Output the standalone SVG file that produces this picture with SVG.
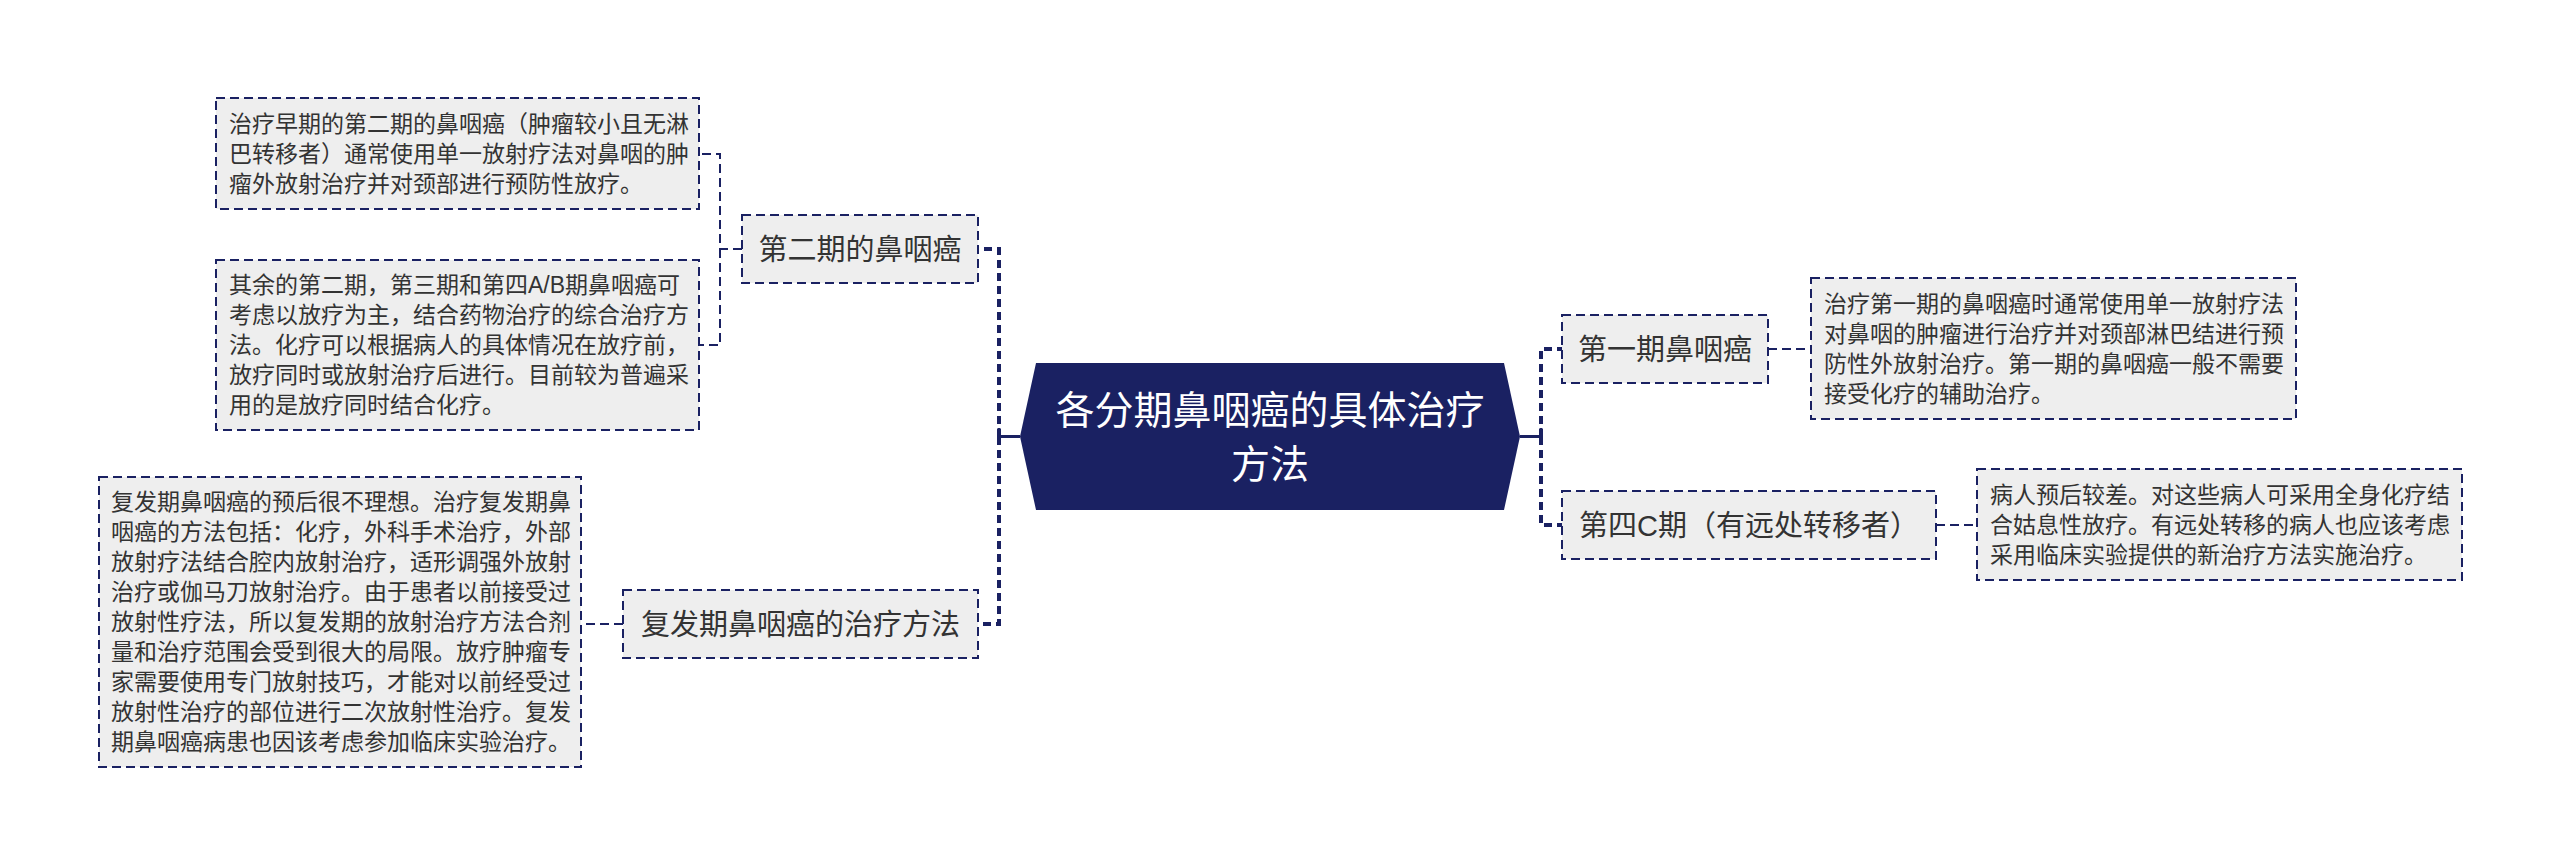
<svg xmlns="http://www.w3.org/2000/svg" width="2560" height="867" viewBox="0 0 2560 867">
<style>
.bg{fill:#ffffff}
.box{fill:#eeeeee;stroke:#1a2162;stroke-width:2;stroke-dasharray:9 5}
.txt{font-family:"Liberation Sans","Noto Sans CJK SC",sans-serif;font-size:23px;fill:#333333}
.ntxt{font-family:"Liberation Sans","Noto Sans CJK SC",sans-serif;font-size:29px;fill:#333333;text-anchor:middle}
.ctxt{font-family:"Liberation Sans","Noto Sans CJK SC",sans-serif;font-size:39px;fill:#ffffff;text-anchor:middle}
.trunk{fill:none;stroke:#1a2162;stroke-width:4;stroke-dasharray:8 5}
.thin{fill:none;stroke:#1a2162;stroke-width:2;stroke-dasharray:9 5}
.solid{fill:none;stroke:#1a2162;stroke-width:3}
</style>
<rect class="bg" x="0" y="0" width="2560" height="867"/>
<g id="connectors">
<path class="solid" d="M1020 436.5 H999 M999 428 V445"/>
<path class="solid" d="M1520 436.5 H1541 M1541 428 V445"/>
<path class="trunk" d="M999 437 V249 H978"/>
<path class="trunk" d="M999 437 V624 H978"/>
<path class="trunk" d="M1541 437 V349 H1562"/>
<path class="trunk" d="M1541 437 V525 H1562"/>
<path class="thin" d="M742 249 H720 V154 H699"/>
<path class="thin" d="M720 249 V345 H699"/>
<path class="thin" d="M623 624 H581"/>
<path class="thin" d="M1768 349 H1811"/>
<path class="thin" d="M1936 525 H1977"/>
</g>
<g id="center">
<polygon points="1020,436.5 1036,363 1504,363 1520,436.5 1504,510 1036,510" fill="#1a2162"/>
<text class="ctxt" x="1270" y="424">各分期鼻咽癌的具体治疗</text>
<text class="ctxt" x="1270" y="478">方法</text>
</g>
<g id="node-stage2">
<rect class="box" x="742" y="215" width="236" height="68"/>
<text class="ntxt" x="860" y="259.5">第二期的鼻咽癌</text>
</g>
<g id="node-recurrent">
<rect class="box" x="623" y="590" width="355" height="68"/>
<text class="ntxt" x="800.5" y="634.5">复发期鼻咽癌的治疗方法</text>
</g>
<g id="node-stage1">
<rect class="box" x="1562" y="315" width="206" height="68"/>
<text class="ntxt" x="1665" y="359.5">第一期鼻咽癌</text>
</g>
<g id="node-stage4c">
<rect class="box" x="1562" y="491" width="374" height="68"/>
<text class="ntxt" x="1749" y="535.5">第四C期（有远处转移者）</text>
</g>
<g id="detail-stage2-a">
<rect class="box" x="216" y="98" width="483" height="111"/>
<text class="txt" x="229"><tspan x="229" y="132">治疗早期的第二期的鼻咽癌（肿瘤较小且无淋</tspan><tspan x="229" y="162">巴转移者）通常使用单一放射疗法对鼻咽的肿</tspan><tspan x="229" y="192">瘤外放射治疗并对颈部进行预防性放疗。</tspan></text>
</g>
<g id="detail-stage2-b">
<rect class="box" x="216" y="260" width="483" height="170"/>
<text class="txt" x="229"><tspan x="229" y="293">其余的第二期，第三期和第四A/B期鼻咽癌可</tspan><tspan x="229" y="323">考虑以放疗为主，结合药物治疗的综合治疗方</tspan><tspan x="229" y="353">法。化疗可以根据病人的具体情况在放疗前，</tspan><tspan x="229" y="383">放疗同时或放射治疗后进行。目前较为普遍采</tspan><tspan x="229" y="413">用的是放疗同时结合化疗。</tspan></text>
</g>
<g id="detail-recurrent">
<rect class="box" x="99" y="477" width="482" height="290"/>
<text class="txt" x="111"><tspan x="111" y="510">复发期鼻咽癌的预后很不理想。治疗复发期鼻</tspan><tspan x="111" y="540">咽癌的方法包括：化疗，外科手术治疗，外部</tspan><tspan x="111" y="570">放射疗法结合腔内放射治疗，适形调强外放射</tspan><tspan x="111" y="600">治疗或伽马刀放射治疗。由于患者以前接受过</tspan><tspan x="111" y="630">放射性疗法，所以复发期的放射治疗方法合剂</tspan><tspan x="111" y="660">量和治疗范围会受到很大的局限。放疗肿瘤专</tspan><tspan x="111" y="690">家需要使用专门放射技巧，才能对以前经受过</tspan><tspan x="111" y="720">放射性治疗的部位进行二次放射性治疗。复发</tspan><tspan x="111" y="750">期鼻咽癌病患也因该考虑参加临床实验治疗。</tspan></text>
</g>
<g id="detail-stage1">
<rect class="box" x="1811" y="278" width="485" height="141"/>
<text class="txt" x="1824"><tspan x="1824" y="312">治疗第一期的鼻咽癌时通常使用单一放射疗法</tspan><tspan x="1824" y="342">对鼻咽的肿瘤进行治疗并对颈部淋巴结进行预</tspan><tspan x="1824" y="372">防性外放射治疗。第一期的鼻咽癌一般不需要</tspan><tspan x="1824" y="402">接受化疗的辅助治疗。</tspan></text>
</g>
<g id="detail-stage4c">
<rect class="box" x="1977" y="469" width="485" height="111"/>
<text class="txt" x="1990"><tspan x="1990" y="503">病人预后较差。对这些病人可采用全身化疗结</tspan><tspan x="1990" y="533">合姑息性放疗。有远处转移的病人也应该考虑</tspan><tspan x="1990" y="563">采用临床实验提供的新治疗方法实施治疗。</tspan></text>
</g>
</svg>
